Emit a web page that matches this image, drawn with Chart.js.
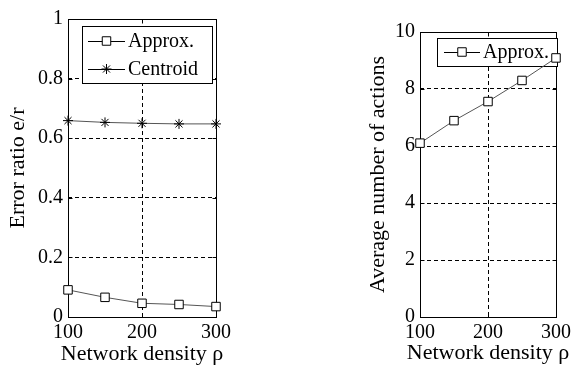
<!DOCTYPE html>
<html><head><meta charset="utf-8">
<script src="https://cdn.jsdelivr.net/npm/chart.js@4.4.1/dist/chart.umd.min.js"></script>
<style>
html,body{margin:0;padding:0;background:#fff;width:575px;height:365px;overflow:hidden}
.wrap{position:absolute;top:0;height:365px}
#w1{left:0;width:260px}
#w2{left:290px;width:285px}
canvas{display:block}
</style></head><body>
<div class="wrap" id="w1"><canvas id="c1" width="260" height="365"></canvas></div>
<div class="wrap" id="w2"><canvas id="c2" width="285" height="365"></canvas></div>
<script>
// ---- data ----
const densities = [100, 150, 200, 250, 300];
const approxError = [0.091, 0.066, 0.046, 0.042, 0.035];
const centroidError = [0.659, 0.653, 0.650, 0.648, 0.648];
const approxActions = [6.10, 6.89, 7.56, 8.30, 9.09];
const xTicks = [100, 200, 300];
const errorTicks = [0, 0.2, 0.4, 0.6, 0.8, 1];
const actionTicks = [0, 2, 4, 6, 8, 10];
const xTitle = 'Network density ρ';
const errorTitle = 'Error ratio e/r';
const actionTitle = 'Average number of actions';
const seriesNames = ['Approx.', 'Centroid'];

const FONT = 'Liberation Serif, Times New Roman, serif';

function drawMarker(ctx, style, x, y, r) {
  ctx.save();
  ctx.strokeStyle = '#000';
  ctx.lineWidth = 1;
  ctx.setLineDash([]);
  ctx.beginPath();
  if (style === 'rect') {
    const s = Math.SQRT1_2 * r;
    ctx.fillStyle = '#fff';
    ctx.rect(x - s, y - s, 2 * s, 2 * s);
    ctx.fill();
  } else {
    for (let k = 0; k < 4; k++) {
      const a = k * Math.PI / 4;
      ctx.moveTo(x - Math.cos(a) * r, y - Math.sin(a) * r);
      ctx.lineTo(x + Math.cos(a) * r, y + Math.sin(a) * r);
    }
  }
  ctx.stroke();
  ctx.restore();
}

const framePlugin = {
  id: 'frame',
  beforeDatasetsDraw(chart, args, opts) {
    const {ctx, chartArea: a, scales: {x, y}} = chart;
    ctx.save();
    ctx.strokeStyle = '#000';
    ctx.lineWidth = 1;
    ctx.setLineDash([]);
    const l = Math.round(a.left) + 0.5, t = Math.round(a.top) + 0.5;
    const r = Math.round(a.right) + 0.5, b = Math.round(a.bottom) + 0.5;
    ctx.strokeRect(l, t, r - l, b - t);
    const L = 4;
    ctx.beginPath();
    x.ticks.forEach(tk => {
      const px = Math.round(x.getPixelForValue(tk.value)) + 0.5;
      ctx.moveTo(px, b); ctx.lineTo(px, b - L);
      ctx.moveTo(px, t); ctx.lineTo(px, t + L);
    });
    y.ticks.forEach(tk => {
      const py = Math.round(y.getPixelForValue(tk.value)) + 0.5;
      ctx.moveTo(l, py); ctx.lineTo(l + L, py);
      ctx.moveTo(r, py); ctx.lineTo(r - L, py);
    });
    ctx.stroke();
    // x axis title (drawn here so it may be wider than the plot area)
    ctx.fillStyle = '#000';
    ctx.font = '22px ' + FONT;
    ctx.textAlign = 'center';
    ctx.textBaseline = 'alphabetic';
    ctx.fillText(xTitle, (a.left + a.right) / 2, opts.titleY);
    ctx.restore();
  }
};

const boxLegendPlugin = {
  id: 'boxLegend',
  beforeDatasetsDraw(chart, args, opts) {
    const {ctx} = chart;
    const [bx, by, bw, bh] = opts.box;
    ctx.save();
    ctx.fillStyle = '#fff';
    ctx.fillRect(bx, by, bw, bh);
    ctx.strokeStyle = '#000';
    ctx.lineWidth = 1;
    ctx.setLineDash([]);
    ctx.strokeRect(bx + 0.5, by + 0.5, bw, bh);
    chart.data.datasets.forEach((ds, i) => {
      const cy = opts.rows[i];
      ctx.strokeStyle = '#000';
      ctx.beginPath();
      ctx.moveTo(opts.lineX0, cy + 0.5);
      ctx.lineTo(opts.lineX1, cy + 0.5);
      ctx.stroke();
      drawMarker(ctx, ds.pointStyle, (opts.lineX0 + opts.lineX1) / 2, cy, ds.pointRadius);
      ctx.fillStyle = '#000';
      ctx.font = '20px ' + FONT;
      ctx.textBaseline = 'middle';
      ctx.textAlign = 'left';
      ctx.fillText(ds.label, opts.textX, cy + 1);
    });
    ctx.restore();
  }
};

function makeScales(yTicks, yMax, yTitle, yWidth, yTitlePad) {
  const gridCommon = {color: '#000', lineWidth: 1, drawTicks: false};
  return {
    x: {
      type: 'linear', min: 100, max: 300,
      afterBuildTicks: s => { s.ticks = xTicks.map(v => ({value: v})); },
      afterFit: s => { s.height = 48; },
      grid: gridCommon,
      border: {display: false, dash: [4, 3]},
      ticks: {color: '#000', font: {family: FONT, size: 20}, padding: 4, maxRotation: 0, autoSkip: false,
              callback: v => String(v)},
      title: {display: false}
    },
    y: {
      type: 'linear', min: 0, max: yMax,
      afterBuildTicks: s => { s.ticks = yTicks.map(v => ({value: v})); },
      afterFit: s => { s.width = yWidth; },
      grid: gridCommon,
      border: {display: false, dash: [4, 3]},
      ticks: {color: '#000', font: {family: FONT, size: 20}, padding: 5, autoSkip: false,
              callback: v => String(v)},
      title: {display: true, text: yTitle, color: '#000', font: {family: FONT, size: 22, lineHeight: 1.2}, padding: {top: yTitlePad, bottom: 0}}
    }
  };
}

const lineStyle = {borderColor: '#555', borderWidth: 1, pointBorderColor: '#000', pointBackgroundColor: '#fff',
                   pointBorderWidth: 1, clip: false, tension: 0};

new Chart(document.getElementById('c1'), {
  type: 'line',
  data: {
    labels: densities,
    datasets: [
      Object.assign({label: seriesNames[0], data: densities.map((d, i) => ({x: d, y: approxError[i]})),
                     pointStyle: 'rect', pointRadius: 6}, lineStyle),
      Object.assign({label: seriesNames[1], data: densities.map((d, i) => ({x: d, y: centroidError[i]})),
                     pointStyle: 'star', pointRadius: 5}, lineStyle)
    ]
  },
  options: {
    responsive: false, animation: false, devicePixelRatio: 1,
    layout: {padding: {top: 19, right: 44, left: 0, bottom: 0}},
    scales: makeScales(errorTicks, 1, errorTitle, 68, 5),
    plugins: {
      legend: {display: false}, tooltip: {enabled: false},
      frame: {titleY: 360},
      boxLegend: {box: [82, 26, 130, 57], rows: [41, 69], lineX0: 88, lineX1: 125, textX: 128}
    }
  },
  plugins: [framePlugin, boxLegendPlugin]
});

new Chart(document.getElementById('c2'), {
  type: 'line',
  data: {
    labels: densities,
    datasets: [
      Object.assign({label: seriesNames[0], data: densities.map((d, i) => ({x: d, y: approxActions[i]})),
                     pointStyle: 'rect', pointRadius: 6}, lineStyle)
    ]
  },
  options: {
    responsive: false, animation: false, devicePixelRatio: 1,
    layout: {padding: {top: 32, right: 16, left: 0, bottom: 0}},
    scales: makeScales(actionTicks, 10, actionTitle, 130, 75),
    plugins: {
      legend: {display: false}, tooltip: {enabled: false},
      frame: {titleY: 359},
      boxLegend: {box: [147, 38, 120, 28], rows: [52], lineX0: 154, lineX1: 190, textX: 193}
    }
  },
  plugins: [framePlugin, boxLegendPlugin]
});
</script>
</body></html>
